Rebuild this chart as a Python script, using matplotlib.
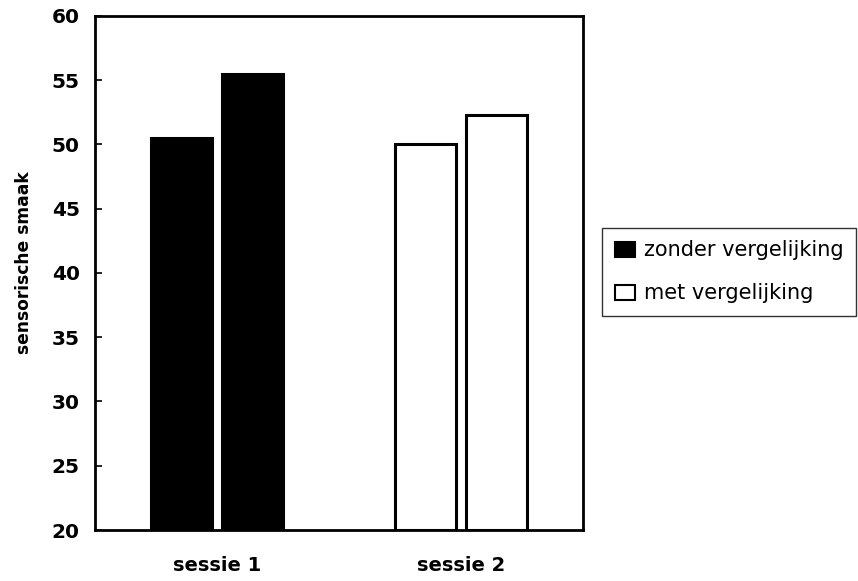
import matplotlib
matplotlib.use("Agg")
import matplotlib.pyplot as plt
import numpy as np
from matplotlib.patches import Patch

# data
sessions = ["sessie 1", "sessie 2"]
bar_values = [[50.5, 55.5], [50.0, 52.3]]
bar_colors = ["black", "white"]
legend_labels = ["zonder vergelijking", "met vergelijking"]
legend_colors = ["black", "white"]
y_ticks = [20, 25, 30, 35, 40, 45, 50, 55, 60]

plt.rcParams["font.family"] = ["DejaVu Sans"]

fig = plt.figure(figsize=(8.58, 5.81), dpi=100)
ax = fig.add_axes([95 / 858, 51 / 581, 488 / 858, 514 / 581])

width = 0.25
offsets = [-0.145, 0.145]
for i, vals in enumerate(bar_values):
    for j, v in enumerate(vals):
        ax.bar(i + offsets[j], v - 20, width=width, bottom=20,
               color=bar_colors[i], edgecolor="black", linewidth=2.2)

ax.set_xlim(-0.5, 1.5)
ax.set_ylim(20, 60)
ax.set_yticks(y_ticks)
ax.set_yticklabels([str(t) for t in y_ticks], fontsize=14.5, fontweight="bold")
ax.set_xticks([0, 1])
ax.set_xticklabels(sessions, fontsize=14, fontweight="bold")
ax.tick_params(axis="x", length=0, pad=19)
ax.tick_params(axis="y", length=5, width=1.2, direction="in", pad=11)
for s in ax.spines.values():
    s.set_linewidth(2)
ax.set_ylabel("sensorische smaak", fontsize=12.3, fontweight="bold")
ax.yaxis.set_label_coords(-0.128, 0.521)

handles = [Patch(facecolor=c, edgecolor="black", linewidth=1.5) for c in legend_colors]
fig.legend(handles, legend_labels, loc="upper left",
           bbox_to_anchor=(602 / 858, (581 - 228) / 581),
           fontsize=15, frameon=True, fancybox=False, edgecolor="black",
           handlelength=1.0, handleheight=0.75, handletextpad=0.4,
           borderpad=0.6, labelspacing=1.1, borderaxespad=0)

fig.savefig("out.png", dpi=100)
